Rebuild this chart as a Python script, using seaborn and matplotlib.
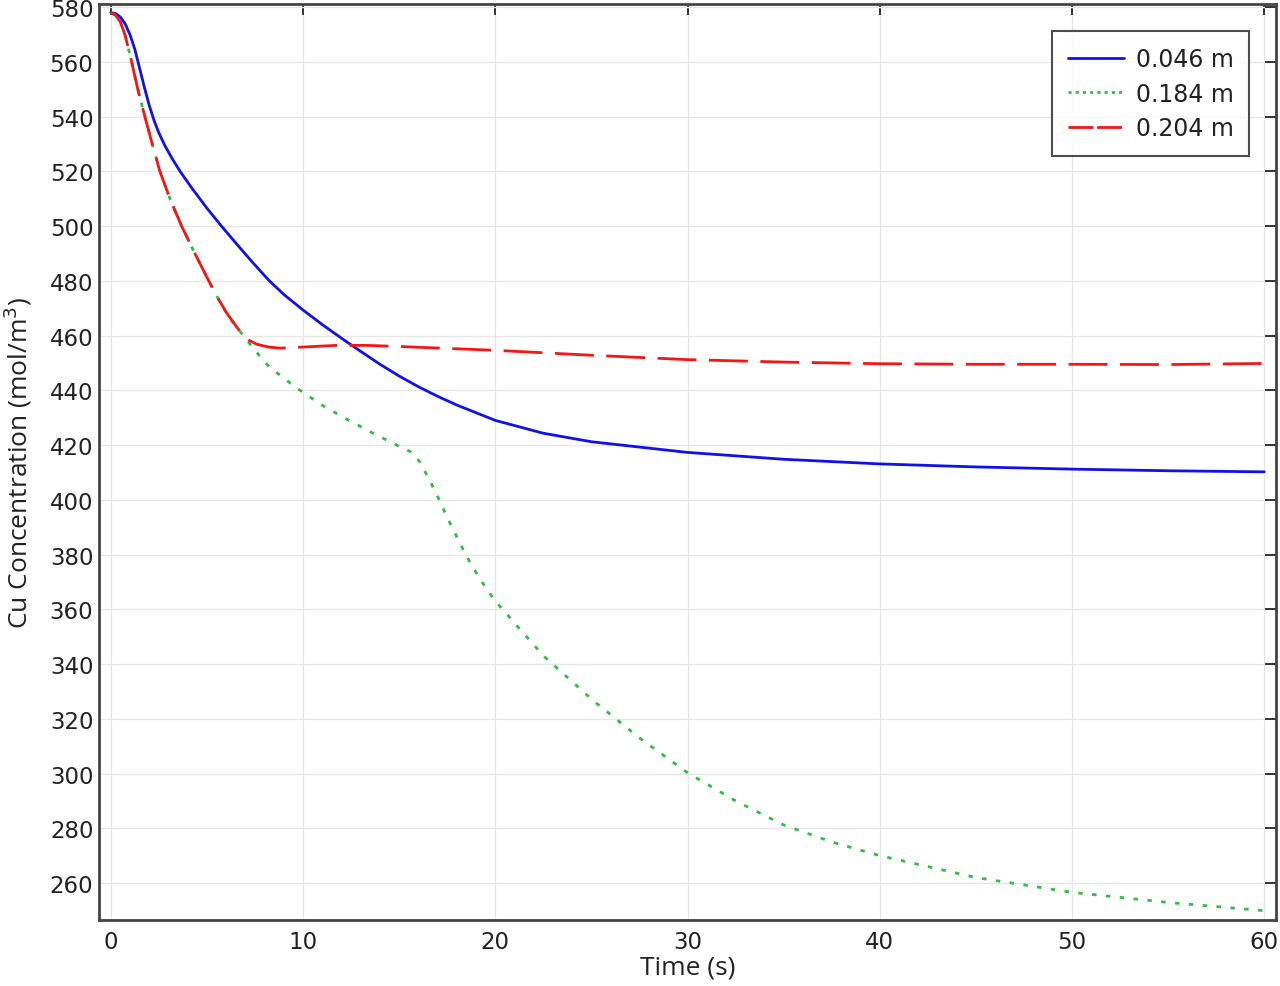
import matplotlib
matplotlib.use("Agg")
import matplotlib.pyplot as plt
import seaborn as sns
import pandas as pd

# ---- data ----
t_046 = [0, 0.25, 0.5, 0.75, 1.0, 1.25, 1.5, 1.75, 2.0, 2.25, 2.5, 2.8, 3.2, 3.6, 4.2, 5.0,
         5.75, 6.5, 7.3, 8.2, 9.0, 10, 11, 12, 13, 14, 15, 16, 17, 18, 20, 22.5, 25, 30,
         35, 40, 45, 50, 55, 60]
c_046 = [578, 577.6, 576.3, 573.8, 569.8, 564.5, 557.5, 550.5, 544, 538.5, 534, 529.5,
         524.5, 520, 514, 506.5, 500, 493.8, 487.3, 480.3, 475, 469.3, 464, 459, 454.2,
         449.5, 445.2, 441.3, 437.8, 434.6, 429, 424.3, 421.2, 417.3, 414.8, 413.1, 412,
         411.2, 410.6, 410.2]

t_204 = [0, 0.25, 0.5, 0.75, 1.08, 1.4, 1.77, 2.15, 2.55, 3.1, 3.68, 4.3, 4.98, 5.5, 6.0,
         6.4, 6.8, 7.2, 7.6, 8.2, 8.8, 10, 11.7, 13.3, 15, 20, 25, 30, 35, 40, 45, 50, 55, 60]
c_204 = [578, 577, 574.5, 569.5, 560, 550, 540, 530, 520, 509.5, 500, 491, 481.5, 474.5,
         468.5, 464.5, 460.8, 458.2, 456.8, 455.8, 455.4, 455.8, 456.4, 456.4, 456.0,
         454.6, 452.8, 451.2, 450.3, 449.7, 449.5, 449.5, 449.4, 449.8]

t_184 = [0, 0.25, 0.5, 0.75, 1.08, 1.4, 1.77, 2.15, 2.55, 3.1, 3.68, 4.3, 4.98, 5.5, 6.0,
         6.4, 6.8, 7.3, 7.84, 8.27, 9.0, 9.57, 10.88, 12.26, 13.56, 14.95, 15.6, 16.08,
         16.4, 16.86, 17.5, 18.5, 19.2, 20, 22.5, 25, 27.5, 30, 32.5, 35, 37.5, 40, 45,
         50, 55, 60]
c_184 = [578, 577, 574.5, 569.5, 560, 550, 540, 530, 520, 509.5, 500, 491, 481.5, 474.5,
         468.5, 464.5, 460.8, 456.3, 451.7, 448.3, 444.5, 441.3, 435, 429.5, 424.6, 419.7,
         417.5, 413.8, 409.5, 403.3, 393.5, 379.4, 371, 363, 343, 327.2, 313, 300.3, 290,
         281.2, 275, 270, 262, 256.6, 252.9, 249.9]

labels = ["0.046 m", "0.184 m", "0.204 m"]
x_ticks = [0, 10, 20, 30, 40, 50, 60]
y_ticks = list(range(260, 581, 20))

sns.set_theme(style="white")
plt.rcParams['font.family'] = ['DejaVu Sans']

fig = plt.figure(figsize=(12.8, 9.87), dpi=100)
ax = fig.add_axes([0.0773, 0.0669, 0.9197, 0.928])

df046 = pd.DataFrame({"t": t_046, "c": c_046})
df184 = pd.DataFrame({"t": t_184, "c": c_184})
df204 = pd.DataFrame({"t": t_204, "c": c_204})

sns.lineplot(data=df046, x="t", y="c", ax=ax, color="#1010e8", lw=2.0, label=labels[0])
sns.lineplot(data=df184, x="t", y="c", ax=ax, color="#33bb44", lw=2.0,
             linestyle=(0, (1.6, 3.4)), label=labels[1])
sns.lineplot(data=df204, x="t", y="c", ax=ax, color="#f51515", lw=2.0,
             linestyle=(0, (14, 4.5)), label=labels[2])

ax.set_xlim(-0.62, 60.62)
ax.set_ylim(246.5, 581.1)
ax.set_xticks(x_ticks)
ax.set_yticks(y_ticks)
ax.grid(True, color="#e6e6e6", lw=1.0)
ax.set_axisbelow(True)

ax.tick_params(direction="in", length=8, width=1.4, colors="#333333",
               labelsize=16.5, top=True, right=True, labelcolor="#222222")
ax.tick_params(axis="x", pad=7)
ax.tick_params(axis="y", pad=4)
for s in ax.spines.values():
    s.set_color("#444444")
    s.set_linewidth(2.0)

ax.set_xlabel("Time (s)", fontsize=19, family=["Open Sans", "DejaVu Sans"],
              color="#222222", labelpad=1)
ax.set_ylabel("Cu Concentration (mol/m$^3$)", fontsize=19,
              family=["Open Sans", "DejaVu Sans"], color="#222222", labelpad=11)

leg = ax.legend(loc="upper right", frameon=True, fancybox=False,
                prop={"size": 17}, edgecolor="#222222", borderaxespad=1.15,
                handlelength=2.4, handletextpad=0.47, labelspacing=0.46, borderpad=0.66)
leg.get_frame().set_linewidth(1.5)
for txt in leg.get_texts():
    txt.set_color("#222222")
leg_lines = leg.get_lines()
leg_lines[1].set_dashes([1.1, 1.5])
leg_lines[2].set_dashes([9, 1.3])

fig.savefig("out.png", dpi=100)
